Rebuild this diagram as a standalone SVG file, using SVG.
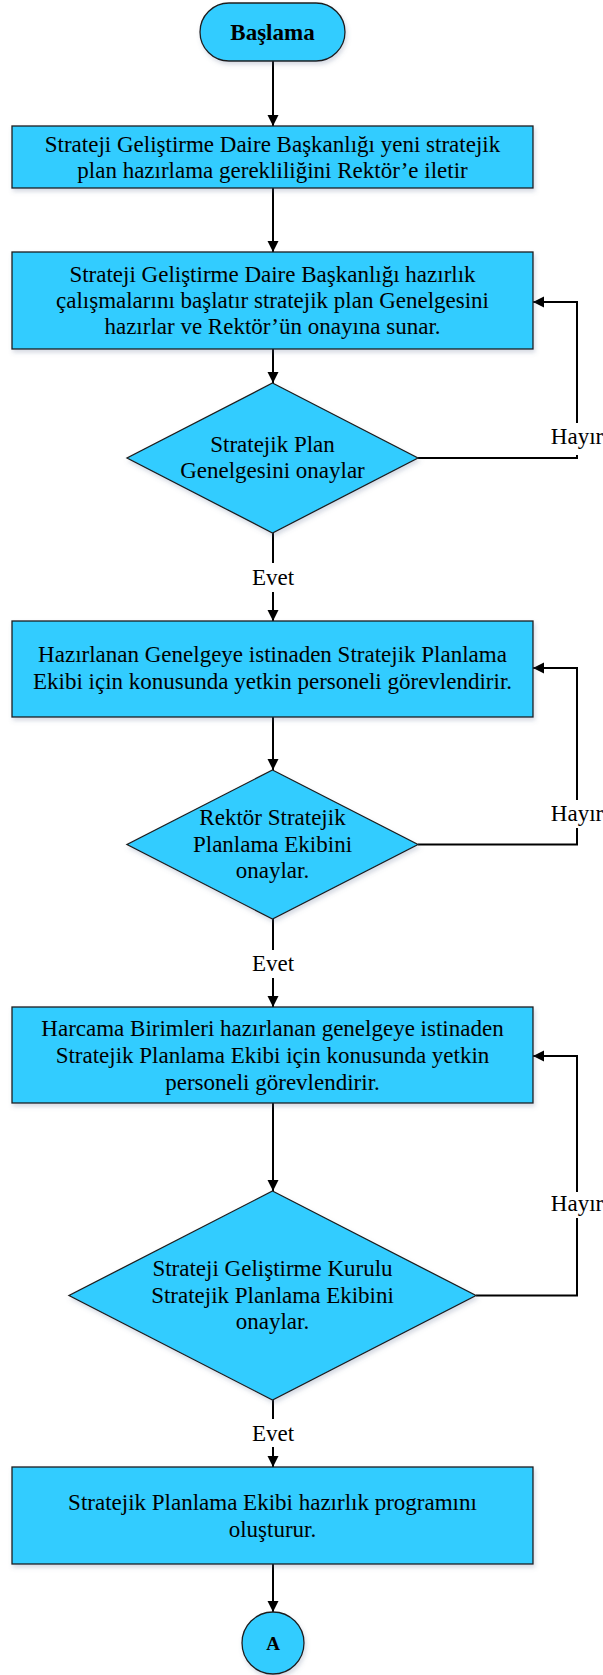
<svg xmlns="http://www.w3.org/2000/svg" width="603" height="1675" viewBox="0 0 603 1675">
<defs>
<style>
.shape{fill:#33CCFF;stroke:#1e1e1e;stroke-width:1.3;filter:url(#sh)}
.t{font-family:"Liberation Serif","Times New Roman",serif;font-size:23px;fill:#000;text-anchor:middle}
.b{font-weight:bold}
.c{fill:none;stroke:#000;stroke-width:2}
.lbl{font-family:"Liberation Serif","Times New Roman",serif;font-size:23px;fill:#000;text-anchor:middle}
</style>
<filter id="sh" x="-10%" y="-10%" width="120%" height="130%">
<feDropShadow dx="1.5" dy="3" stdDeviation="2" flood-color="#5a7090" flood-opacity="0.25"/>
</filter>
<marker id="ar" markerUnits="userSpaceOnUse" markerWidth="12" markerHeight="12" viewBox="0 0 12 12" refX="11" refY="6" orient="auto">
<path d="M0,0.5 L11,6 L0,11.5 Z" fill="#000"/>
</marker>
</defs>
<rect width="603" height="1675" fill="#fff"/>

<g id="connectors">
<path class="c" d="M273,61 V126" marker-end="url(#ar)"/>
<path class="c" d="M273,188 V252" marker-end="url(#ar)"/>
<path class="c" d="M273,349 V383" marker-end="url(#ar)"/>
<path class="c" d="M273,533 V563"/>
<path class="c" d="M273,592 V621" marker-end="url(#ar)"/>
<path class="c" d="M418,458 H577 V302 H533" marker-end="url(#ar)"/>
<path class="c" d="M273,717 V770" marker-end="url(#ar)"/>
<path class="c" d="M418,844.5 H577 V668 H533" marker-end="url(#ar)"/>
<path class="c" d="M273,919 V950"/>
<path class="c" d="M273,978 V1007" marker-end="url(#ar)"/>
<path class="c" d="M273,1103 V1191" marker-end="url(#ar)"/>
<path class="c" d="M476,1295.5 H577 V1056 H533" marker-end="url(#ar)"/>
<path class="c" d="M273,1400 V1419"/>
<path class="c" d="M273,1447 V1467" marker-end="url(#ar)"/>
<path class="c" d="M273,1564 V1612" marker-end="url(#ar)"/>
<rect x="550" y="423" width="53" height="32" fill="#fff"/>
<text class="lbl" x="577" y="444">Hayır</text>
<rect x="550" y="800" width="53" height="28" fill="#fff"/>
<text class="lbl" x="577" y="821">Hayır</text>
<rect x="550" y="1192" width="53" height="26" fill="#fff"/>
<text class="lbl" x="577" y="1211">Hayır</text>
<text class="lbl" x="273" y="585">Evet</text>
<text class="lbl" x="273" y="971">Evet</text>
<text class="lbl" x="273" y="1441">Evet</text>
</g>

<g id="start">
<rect class="shape" x="200" y="3" width="145" height="58" rx="29" ry="29"/>
<text class="t b" x="272.5" y="40">Başlama</text>
</g>

<g id="step1">
<rect class="shape" x="12" y="126" width="521" height="62"/>
<text class="t" x="272.5" y="152">Strateji Geliştirme Daire Başkanlığı yeni stratejik</text>
<text class="t" x="272.5" y="178">plan hazırlama gerekliliğini Rektör’e iletir</text>
</g>

<g id="step2">
<rect class="shape" x="12" y="252" width="521" height="97"/>
<text class="t" x="272.5" y="282">Strateji Geliştirme Daire Başkanlığı hazırlık</text>
<text class="t" x="272.5" y="308">çalışmalarını başlatır stratejik plan Genelgesini</text>
<text class="t" x="272.5" y="334">hazırlar ve Rektör’ün onayına sunar.</text>
</g>

<g id="decision1">
<polygon class="shape" points="272.5,383 418,458 272.5,533 127,458"/>
<text class="t" x="272.5" y="452">Stratejik Plan</text>
<text class="t" x="272.5" y="478">Genelgesini onaylar</text>
</g>

<g id="step3">
<rect class="shape" x="12" y="621" width="521" height="96"/>
<text class="t" x="272.5" y="662">Hazırlanan Genelgeye istinaden Stratejik Planlama</text>
<text class="t" x="272.5" y="689">Ekibi için konusunda yetkin personeli görevlendirir.</text>
</g>

<g id="decision2">
<polygon class="shape" points="272.5,770 418,844.5 272.5,919 127,844.5"/>
<text class="t" x="272.5" y="825">Rektör Stratejik</text>
<text class="t" x="272.5" y="852">Planlama Ekibini</text>
<text class="t" x="272.5" y="878">onaylar.</text>
</g>

<g id="step4">
<rect class="shape" x="12" y="1007" width="521" height="96"/>
<text class="t" x="272.5" y="1036">Harcama Birimleri hazırlanan genelgeye istinaden</text>
<text class="t" x="272.5" y="1063">Stratejik Planlama Ekibi için konusunda yetkin</text>
<text class="t" x="272.5" y="1090">personeli görevlendirir.</text>
</g>

<g id="decision3">
<polygon class="shape" points="272.5,1191 476,1295.5 272.5,1400 69,1295.5"/>
<text class="t" x="272.5" y="1276">Strateji Geliştirme Kurulu</text>
<text class="t" x="272.5" y="1303">Stratejik Planlama Ekibini</text>
<text class="t" x="272.5" y="1329">onaylar.</text>
</g>

<g id="step5">
<rect class="shape" x="12" y="1467" width="521" height="97"/>
<text class="t" x="272.5" y="1510">Stratejik Planlama Ekibi hazırlık programını</text>
<text class="t" x="272.5" y="1537">oluşturur.</text>
</g>

<g id="connectorA">
<circle class="shape" cx="273" cy="1643" r="31"/>
<text class="t b" x="273" y="1650" style="font-size:19px">A</text>
</g>
</svg>
